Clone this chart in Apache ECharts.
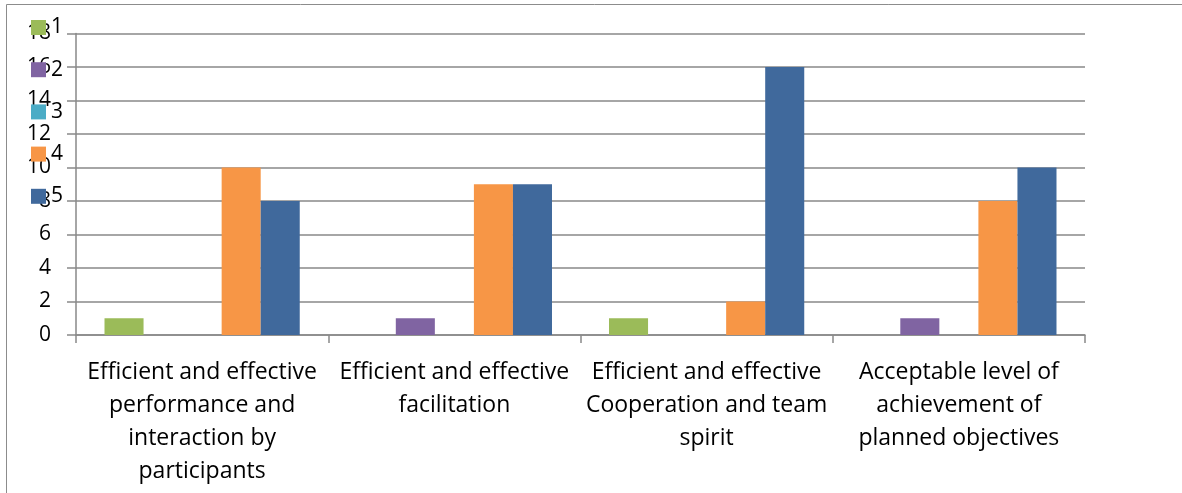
<!DOCTYPE html>
<html>
<head>
<meta charset="utf-8">
<script src="https://cdn.jsdelivr.net/npm/echarts@6/dist/echarts.min.js"></script>
<style>
  html, body { margin: 0; padding: 0; background: #fff; }
  #chart { width: 1182px; height: 493px; }
</style>
</head>
<body>
<div id="chart"></div>
<script>
// Survey categories (line breaks give the wrapped axis labels)
const categories = [
  'Efficient and effective\nperformance and\ninteraction by\nparticipants',
  'Efficient and effective\nfacilitation',
  'Efficient and effective\nCooperation and team\nspirit',
  'Acceptable level of\nachievement of\nplanned objectives'
];

// Rating counts per category, one array per rating level
const rating1 = [1, 0, 1, 0];
const rating2 = [0, 1, 0, 1];
const rating3 = [0, 0, 0, 0];
const rating4 = [10, 9, 2, 8];
const rating5 = [8, 9, 16, 10];

const seriesNames = ['1', '2', '3', '4', '5'];
const seriesData = [rating1, rating2, rating3, rating4, rating5];
const colors = ['#9BBB59', '#8064A2', '#4BACC6', '#F79646', '#40699C'];

const font = '"Open Sans", "Liberation Sans", sans-serif';
const gridGray = '#898989';

const chart = echarts.init(document.getElementById('chart'), null, { renderer: 'canvas' });

chart.setOption({
  animation: false,
  backgroundColor: '#fff',
  color: colors,
  graphic: [{
    type: 'rect',
    shape: { x: 6.5, y: 4.5, width: 1300, height: 600 },
    style: { fill: 'none', stroke: '#8c8c8c', lineWidth: 1 },
    silent: true
  }],
  grid: { left: 76, right: 97, top: 33.5, bottom: 158, containLabel: false },
  legend: {
    orient: 'vertical',
    left: 26,
    top: 12,
    itemWidth: 15,
    itemHeight: 15,
    itemGap: 21.2,
    icon: 'rect',
    textStyle: { fontFamily: font, fontSize: 21, color: '#000', padding: [0, 0, 0, 0] },
    data: seriesNames
  },
  xAxis: {
    type: 'category',
    data: categories,
    axisLine: { lineStyle: { color: gridGray, width: 1.5 } },
    axisTick: { show: true, length: 8, lineStyle: { color: gridGray, width: 1.5 } },
    axisLabel: {
      fontFamily: font, fontSize: 23, color: '#000', lineHeight: 33, margin: 21,
      interval: 0
    }
  },
  yAxis: {
    type: 'value',
    min: 0,
    max: 18,
    interval: 2,
    axisLine: { show: true, lineStyle: { color: gridGray, width: 1.5 } },
    axisTick: { show: true, length: 9, lineStyle: { color: gridGray, width: 1.5 } },
    splitLine: { lineStyle: { color: gridGray, width: 1.5 } },
    axisLabel: { fontFamily: font, fontSize: 21, color: '#000', margin: 25 }
  },
  series: seriesNames.map((name, i) => ({
    name: name,
    type: 'bar',
    data: seriesData[i],
    barGap: '0%',
    barCategoryGap: '22.6%',
    itemStyle: { color: colors[i] }
  }))
});
</script>
</body>
</html>
